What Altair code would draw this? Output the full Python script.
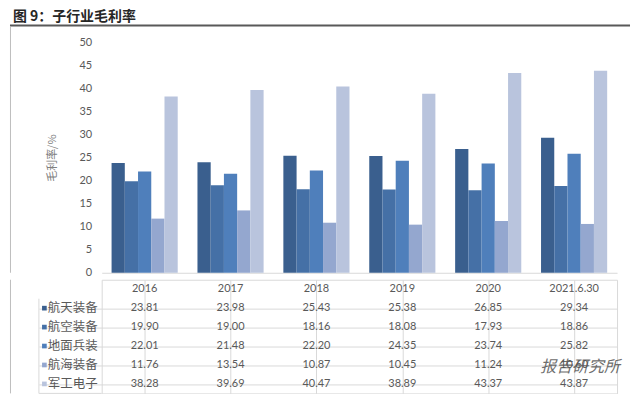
import altair as alt
import pandas as pd

title_text = "图 9：子行业毛利率"
y_title = "毛利率/%"
watermark = "报告研究所"

categories = ["2016", "2017", "2018", "2019", "2020", "2021.6.30"]
series = ["航天装备", "航空装备", "地面兵装", "航海装备", "军工电子"]
hangtian = [23.81, 23.98, 25.43, 25.38, 26.85, 29.34]
hangkong = [19.90, 19.00, 18.16, 18.08, 17.93, 18.86]
dimian = [22.01, 21.48, 22.20, 24.35, 23.74, 25.82]
hanghai = [11.76, 13.54, 10.87, 10.45, 11.24, 10.60]
junggong = [38.28, 39.69, 40.47, 38.89, 43.37, 43.87]
colors = ["#3a5f8e", "#4570a6", "#4f7fbb", "#94a7cf", "#b9c4dd"]
y_ticks = [0, 5, 10, 15, 20, 25, 30, 35, 40, 45, 50]

values = [hangtian, hangkong, dimian, hanghai, junggong]
rows = []
for s, vals in zip(series, values):
    for c, v in zip(categories, vals):
        rows.append({"year": c, "series": s, "value": v})
df = pd.DataFrame(rows)

trows = [{"year": c, "row": "header", "text": c} for c in categories]
for r in rows:
    trows.append({"year": r["year"], "row": r["series"], "text": f"{r['value']:.2f}"})
tdf = pd.DataFrame(trows)
row_domain = ["header"] + series
sdf = pd.DataFrame({"row": series, "series": series})

GRID = "#d9d9d9"
TXT = "#595959"
W = 517
H1 = 231
H2 = 114

color_scale = alt.Scale(domain=series, range=colors)

bars = alt.Chart(df).mark_bar().encode(
    x=alt.X("year:N", sort=categories,
            scale=alt.Scale(domain=categories, paddingInner=0.23, paddingOuter=0.115),
            axis=alt.Axis(title=None, labels=False, ticks=False, domainColor=GRID)),
    xOffset=alt.XOffset("series:N", sort=series, scale=alt.Scale(domain=series)),
    y=alt.Y("value:Q", scale=alt.Scale(domain=[0, 50]),
            axis=alt.Axis(values=y_ticks, title=y_title, grid=False, domain=False, ticks=False,
                          labelPadding=10, labelFont="Lato", labelFontSize=11, labelColor=TXT,
                          titleFont="Noto Sans CJK SC", titleFontSize=11, titleFontWeight="normal",
                          titleColor="#7f7f7f", titlePadding=22)),
    color=alt.Color("series:N", scale=color_scale, legend=None),
)

tdata = pd.DataFrame({"t": [title_text]})
title_mark = alt.Chart(tdata).mark_text(
    align="left", baseline="middle", font="Noto Sans CJK SC", fontSize=14,
    fontWeight="bold", color="#262626"
).encode(x=alt.value(-89), y=alt.value(-26), text="t:N")
title_line = alt.Chart(tdata).mark_rule(color="#595959", strokeWidth=2).encode(
    x=alt.value(-92), x2=alt.value(530), y=alt.value(-17))
left_border = alt.Chart(tdata).mark_rule(color="#bfbfbf", strokeWidth=1).encode(
    x=alt.value(-91.5), y=alt.value(-16), y2=alt.value(H1))

top = alt.layer(bars, title_mark, title_line, left_border).properties(
    width=W, height=H1, view=alt.ViewBackground(stroke="transparent"))

xs = alt.X("year:N", sort=categories,
           scale=alt.Scale(domain=categories, paddingInner=0, paddingOuter=0),
           axis=alt.Axis(title=None, labels=False, ticks=False, domain=False, grid=True,
                         bandPosition=0, gridColor=GRID))
ys = alt.Y("row:N", sort=row_domain,
           scale=alt.Scale(domain=row_domain, paddingInner=0, paddingOuter=0),
           axis=alt.Axis(title=None, values=series, labels=False, bandPosition=0, grid=True,
                         gridColor=GRID, ticks=True, tickSize=63, tickColor=GRID, domain=False))

cells = alt.Chart(tdf).mark_text(font="Lato", fontSize=11, color=TXT).encode(
    x=xs, y=ys, text="text:N")
labels = alt.Chart(sdf).mark_text(align="left", font="Noto Sans CJK SC", fontSize=12.5,
                                  color=TXT).encode(
    x=alt.value(-54), y=alt.Y("row:N", sort=row_domain), text="row:N")
squares = alt.Chart(sdf).mark_point(shape="square", filled=True, size=22, opacity=1).encode(
    x=alt.value(-57.5), y=alt.Y("row:N", sort=row_domain),
    color=alt.Color("series:N", scale=color_scale, legend=None))
col_left = alt.Chart(tdata).mark_rule(color=GRID).encode(
    x=alt.value(-63), y=alt.value(H2 / 6), y2=alt.value(H2))
col_bottom = alt.Chart(tdata).mark_rule(color=GRID).encode(
    x=alt.value(-63), x2=alt.value(0), y=alt.value(H2))
outer_left = alt.Chart(tdata).mark_rule(color="#bfbfbf", strokeWidth=1).encode(
    x=alt.value(-91.5), y=alt.value(0), y2=alt.value(H2))
wdata = pd.DataFrame({"t": [watermark]})
wm = alt.Chart(wdata).mark_text(font="Noto Sans CJK SC", fontSize=16, color="#555555",
                                opacity=0.85, align="left", fontStyle="italic").encode(
    x=alt.value(440), y=alt.value(88), text="t:N")

table = alt.layer(cells, labels, squares, col_left, col_bottom, outer_left, wm).properties(
    width=W, height=H2, view=alt.ViewBackground(stroke=GRID))

chart = alt.vconcat(top, table, spacing=0).resolve_scale(
    x="independent", y="independent"
).properties(padding={"left": 0, "top": 0, "right": 0, "bottom": 0})

chart.save("out.html", embed_options={"renderer": "svg", "actions": False})
